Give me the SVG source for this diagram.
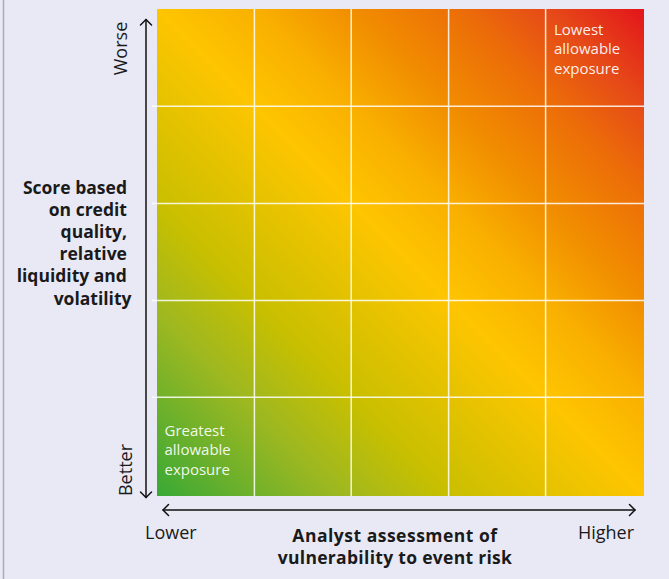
<svg xmlns="http://www.w3.org/2000/svg" width="669" height="579" viewBox="0 0 669 579">
<style>
.ax{stroke:#111;stroke-width:1.5;fill:none;stroke-linecap:round;stroke-linejoin:round}
.gl{stroke:#fff;stroke-opacity:0.85;stroke-width:1.5}
.lab{font-family:"Open Sans","Noto Sans",sans-serif;font-size:18px;fill:#1a1a1a}
.bold{font-family:"Open Sans","Noto Sans",sans-serif;font-size:17.5px;font-weight:bold;fill:#1a1a1a}
.title{font-family:"Open Sans","Noto Sans",sans-serif;font-size:17.5px;font-weight:bold;fill:#1a1a1a}
.in{font-family:"Open Sans","Noto Sans",sans-serif;font-size:15px;fill:#fff;fill-opacity:0.93}
</style>
<defs>
<linearGradient id="heat" x1="0" y1="1" x2="1" y2="0">
<stop offset="0" stop-color="#38a935"/>
<stop offset="0.09" stop-color="#6ab02c"/>
<stop offset="0.19" stop-color="#9eb820"/>
<stop offset="0.3" stop-color="#c8bf00"/>
<stop offset="0.5" stop-color="#fec500"/>
<stop offset="0.6" stop-color="#f9b000"/>
<stop offset="0.7" stop-color="#f18d00"/>
<stop offset="0.81" stop-color="#ec6d08"/>
<stop offset="0.9" stop-color="#e64a18"/>
<stop offset="1" stop-color="#e3141b"/>
</linearGradient>
</defs>
<rect x="0" y="0" width="669" height="579" fill="#e9e9f6"/>
<line x1="3.5" y1="0" x2="3.5" y2="579" stroke="#a9a9ba" stroke-width="1.5"/>
<g id="matrix">
<rect x="157" y="9" width="487" height="487" fill="url(#heat)"/>
<line class="gl" x1="254.4" y1="9" x2="254.4" y2="496"/>
<line class="gl" x1="351.2" y1="9" x2="351.2" y2="496"/>
<line class="gl" x1="448.6" y1="9" x2="448.6" y2="496"/>
<line class="gl" x1="545.6" y1="9" x2="545.6" y2="496"/>
<line class="gl" x1="152" y1="106.2" x2="644" y2="106.2"/>
<line class="gl" x1="152" y1="203.6" x2="644" y2="203.6"/>
<line class="gl" x1="152" y1="300.4" x2="644" y2="300.4"/>
<line class="gl" x1="152" y1="397.2" x2="644" y2="397.2"/>
</g>
<g id="corner-high">
<text class="in" x="554" y="34.7">Lowest</text>
<text class="in" x="554" y="54.2">allowable</text>
<text class="in" x="554" y="73.5">exposure</text>
</g>
<g id="corner-low">
<text class="in" x="164.5" y="435.7">Greatest</text>
<text class="in" x="164.5" y="455.2">allowable</text>
<text class="in" x="164.5" y="474.8">exposure</text>
</g>
<g id="connectors">
<line class="ax" x1="146" y1="19.5" x2="146" y2="497.5"/>
<polyline class="ax" points="140.5,25 146,19.5 151.5,25"/>
<polyline class="ax" points="140.5,492 146,497.5 151.5,492"/>
<line class="ax" x1="163" y1="510" x2="635" y2="510"/>
<polyline class="ax" points="168.5,504.5 163,510 168.5,515.5"/>
<polyline class="ax" points="629.5,504.5 635,510 629.5,515.5"/>
</g>
<g id="y-axis-labels">
<text class="lab" transform="translate(127,48.5) rotate(-90)" text-anchor="middle">Worse</text>
<text class="lab" transform="translate(131.5,470) rotate(-90)" text-anchor="middle">Better</text>
<text class="bold" text-anchor="end">
<tspan x="131.5" y="193.5">Score based</tspan>
<tspan x="131.5" y="215.7">on credit</tspan>
<tspan x="131.5" y="237.9">quality,</tspan>
<tspan x="131.5" y="260.1">relative</tspan>
<tspan x="131.5" y="282.3">liquidity and</tspan>
<tspan x="131.5" y="304.5">volatility</tspan>
</text>
</g>
<g id="x-axis-labels">
<text class="lab" x="145" y="538.5">Lower</text>
<text class="lab" x="634" y="538.5" text-anchor="end">Higher</text>
<text class="title" x="395" y="542.4" text-anchor="middle" letter-spacing="0.5">Analyst assessment of</text>
<text class="title" x="395" y="564.3" text-anchor="middle" letter-spacing="0.3">vulnerability to event risk</text>
</g>
</svg>
